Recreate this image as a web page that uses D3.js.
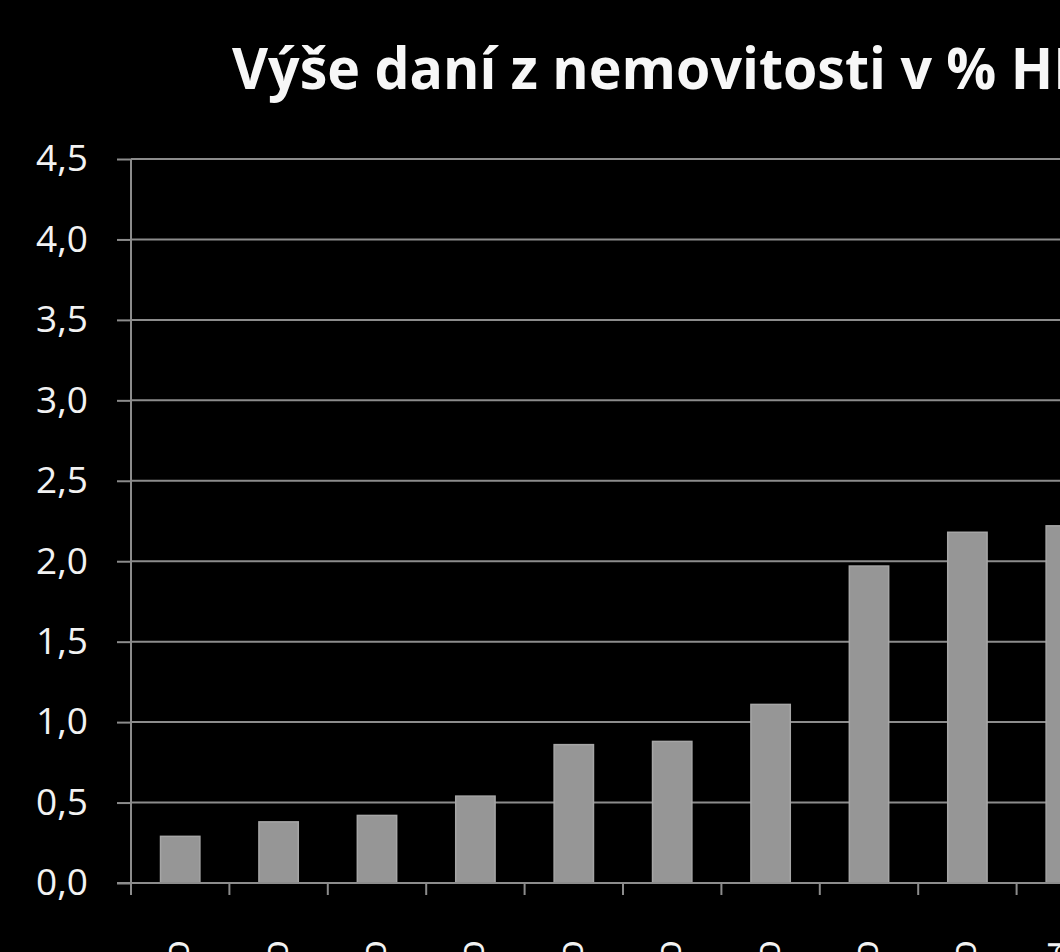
<!DOCTYPE html>
<html>
<head>
<meta charset="utf-8">
<script src="https://cdn.jsdelivr.net/npm/d3@7"></script>
<style>
  html, body { margin: 0; padding: 0; background: #000; overflow: hidden; }
  svg { display: block; }
</style>
</head>
<body>
<svg id="chart" width="1060" height="952"></svg>
<script>
const title = "Výše daní z nemovitosti v % HDP";
const categories = ["Mexiko", "Česko", "Slovensko", "Rakousko", "Německo", "Norsko", "Finsko", "Švédsko", "Dánsko", "Island"];
const values = [0.29, 0.38, 0.42, 0.54, 0.86, 0.88, 1.11, 1.97, 2.18, 2.22];
const yTicks = [0, 0.5, 1.0, 1.5, 2.0, 2.5, 3.0, 3.5, 4.0, 4.5];

const svg = d3.select("#chart");
const W = 1060, H = 952;
svg.append("rect").attr("width", W).attr("height", H).attr("fill", "#000");

const plotLeft = 131, plotTop = 159, plotBottom = 883;
const step = 98.4;
const plotRight = plotLeft + step * categories.length;

const x = d3.scaleBand().domain(categories).range([plotLeft, plotRight]).paddingInner(0.6).paddingOuter(0.3);
const y = d3.scaleLinear().domain([0, 4.5]).range([plotBottom, plotTop]);

const gridColor = "#8c8c8c";

// gridlines
svg.append("g").selectAll("line").data(yTicks.filter(t => t > 0)).join("line")
  .attr("x1", plotLeft).attr("x2", W + 10)
  .attr("y1", d => y(d)).attr("y2", d => y(d))
  .attr("stroke", gridColor).attr("stroke-width", 2);

// bars
svg.append("g").selectAll("rect").data(values).join("rect")
  .attr("x", (d, i) => x(categories[i]))
  .attr("y", d => y(d))
  .attr("width", x.bandwidth())
  .attr("height", d => y(0) - y(d))
  .attr("fill", "#969696")
  .attr("stroke", "#a6a6a6")
  .attr("stroke-width", 1.5);

// y axis
const yAxis = d3.axisLeft(y).tickValues(yTicks).tickSize(14).tickPadding(29)
  .tickFormat(d => d3.format(".1f")(d).replace(".", ","));
const gy = svg.append("g").attr("transform", `translate(${plotLeft},0)`).call(yAxis);
gy.select(".domain").remove();
gy.selectAll(".tick line").attr("stroke", gridColor).attr("stroke-width", 2);
gy.selectAll(".tick text").attr("fill", "#f2f2f2")
  .style("font-family", "'Open Sans', 'DejaVu Sans', sans-serif").style("font-size", "37px");

// y axis line
svg.append("line").attr("x1", plotLeft).attr("x2", plotLeft).attr("y1", plotTop).attr("y2", plotBottom + 12)
  .attr("stroke", gridColor).attr("stroke-width", 2);

// x axis
const slot = d3.scaleBand().domain(categories).range([plotLeft, plotRight]);
const gx = svg.append("g");
gx.append("line").attr("x1", plotLeft - 14).attr("x2", W + 10).attr("y1", plotBottom).attr("y2", plotBottom)
  .attr("stroke", gridColor).attr("stroke-width", 2);
gx.selectAll("line.tk").data(categories).join("line").attr("class", "tk")
  .attr("x1", d => slot(d)).attr("x2", d => slot(d))
  .attr("y1", plotBottom).attr("y2", plotBottom + 12)
  .attr("stroke", gridColor).attr("stroke-width", 2);

// category labels (rotated, mostly below the visible area)
gx.selectAll("text").data(categories).join("text")
  .attr("transform", d => `translate(${x(d) + x.bandwidth() / 2 - 4},940) rotate(-90)`)
  .attr("text-anchor", "end")
  .attr("dy", "0.35em")
  .attr("fill", "#f2f2f2")
  .style("font-family", "'Open Sans', 'DejaVu Sans', sans-serif").style("font-size", "37px")
  .text(d => d);

// title
const t = svg.append("text")
  .attr("x", 0).attr("y", 89)
  .attr("fill", "#f7f7f7")
  .style("font-family", "'Open Sans', 'DejaVu Sans', sans-serif")
  .style("font-weight", "bold").style("font-size", "58px")
  .text(title);
// fit horizontally so that "Výše daní z nemovitosti v % " spans to x≈1011
const prefixLen = t.node().getSubStringLength(0, title.indexOf("HDP"));
const sx = 779 / prefixLen;
t.attr("transform", `translate(232,0) scale(${sx},1)`);
</script>
</body>
</html>
